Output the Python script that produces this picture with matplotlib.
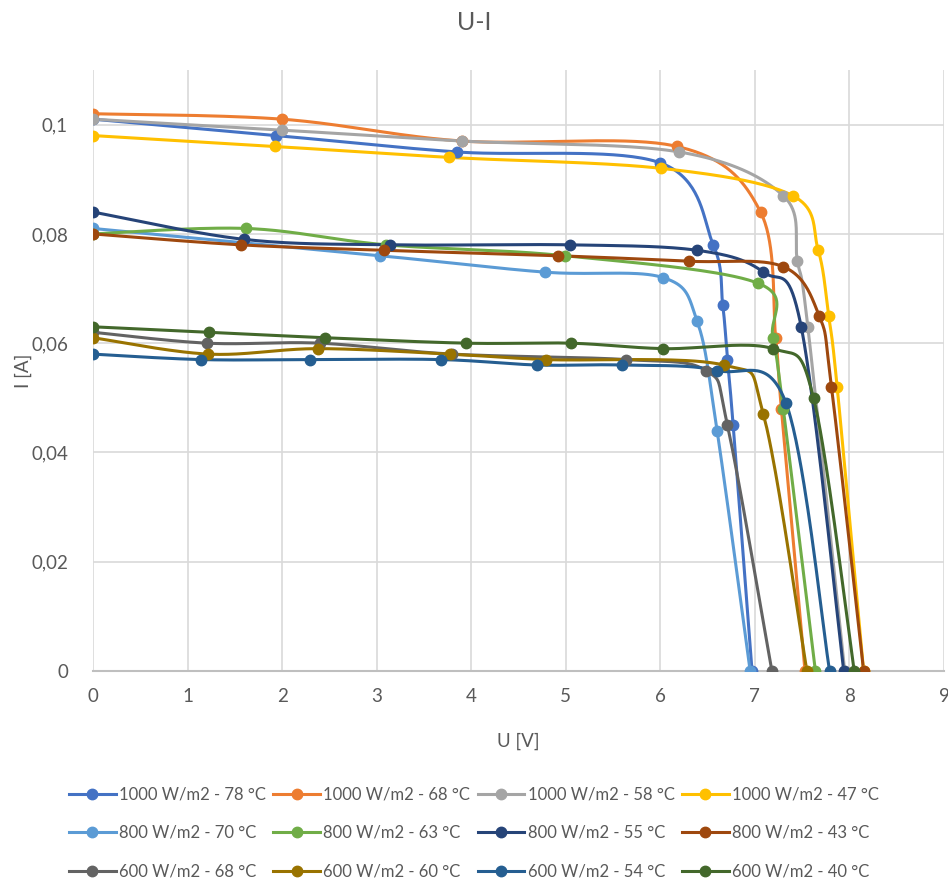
import numpy as np
import matplotlib
matplotlib.use("Agg")
import matplotlib.pyplot as plt
from matplotlib.lines import Line2D

plt.rcParams['font.family'] = ['Lato', 'DejaVu Sans']

labels = ["1000 W/m2 - 78 °C", "1000 W/m2 - 68 °C", "1000 W/m2 - 58 °C", "1000 W/m2 - 47 °C",
          "800 W/m2 - 70 °C", "800 W/m2 - 63 °C", "800 W/m2 - 55 °C", "800 W/m2 - 43 °C",
          "600 W/m2 - 68 °C", "600 W/m2 - 60 °C", "600 W/m2 - 54 °C", "600 W/m2 - 40 °C"]
colors = ["#4472C4", "#ED7D31", "#A5A5A5", "#FFC000",
          "#5B9BD5", "#70AD47", "#264478", "#9E480E",
          "#636363", "#997300", "#255E91", "#43682B"]

u_1000_78 = [0, 1.94, 3.85, 6.0, 6.56, 6.66, 6.71, 6.77, 6.97]
i_1000_78 = [0.101, 0.098, 0.095, 0.093, 0.078, 0.067, 0.057, 0.045, 0.0]
u_1000_68 = [0, 2.0, 3.9, 6.18, 7.06, 7.22, 7.28, 7.53]
i_1000_68 = [0.102, 0.101, 0.097, 0.096, 0.084, 0.061, 0.048, 0.0]
u_1000_58 = [0, 2.0, 3.9, 6.2, 7.3, 7.45, 7.56, 7.95]
i_1000_58 = [0.101, 0.099, 0.097, 0.095, 0.087, 0.075, 0.063, 0.0]
u_1000_47 = [0, 1.93, 3.77, 6.01, 7.4, 7.67, 7.78, 7.87, 8.15]
i_1000_47 = [0.098, 0.096, 0.094, 0.092, 0.087, 0.077, 0.065, 0.052, 0.0]
u_800_70 = [0, 3.04, 4.78, 6.03, 6.39, 6.6, 6.95]
i_800_70 = [0.081, 0.076, 0.073, 0.072, 0.064, 0.044, 0.0]
u_800_63 = [0, 1.62, 3.1, 4.99, 7.03, 7.19, 7.3, 7.64]
i_800_63 = [0.080, 0.081, 0.078, 0.076, 0.071, 0.061, 0.048, 0.0]
u_800_55 = [0, 1.6, 3.14, 5.04, 6.39, 7.09, 7.49, 7.94]
i_800_55 = [0.084, 0.079, 0.078, 0.078, 0.077, 0.073, 0.063, 0.0]
u_800_43 = [0, 1.56, 3.08, 4.92, 6.3, 7.3, 7.68, 7.81, 8.15]
i_800_43 = [0.080, 0.078, 0.077, 0.076, 0.075, 0.074, 0.065, 0.052, 0.0]
u_600_68 = [0, 1.21, 2.4, 3.8, 5.64, 6.48, 6.71, 7.18]
i_600_68 = [0.062, 0.060, 0.060, 0.058, 0.057, 0.055, 0.045, 0.0]
u_600_60 = [0, 1.22, 2.38, 3.78, 4.79, 6.67, 7.09, 7.55]
i_600_60 = [0.061, 0.058, 0.059, 0.058, 0.057, 0.056, 0.047, 0.0]
u_600_54 = [0, 1.14, 2.3, 3.68, 4.7, 5.59, 6.6, 7.33, 7.79]
i_600_54 = [0.058, 0.057, 0.057, 0.057, 0.056, 0.056, 0.055, 0.049, 0.0]
u_600_40 = [0, 1.23, 2.45, 3.95, 5.05, 6.03, 7.19, 7.62, 8.05]
i_600_40 = [0.063, 0.062, 0.061, 0.060, 0.060, 0.059, 0.059, 0.050, 0.0]

series_u = [u_1000_78, u_1000_68, u_1000_58, u_1000_47, u_800_70, u_800_63, u_800_55, u_800_43,
            u_600_68, u_600_60, u_600_54, u_600_40]
series_i = [i_1000_78, i_1000_68, i_1000_58, i_1000_47, i_800_70, i_800_63, i_800_55, i_800_43,
            i_600_68, i_600_60, i_600_54, i_600_40]

x_ticks = list(range(0, 10))
y_ticks = [0, 0.02, 0.04, 0.06, 0.08, 0.1]
y_tick_labels = ["0", "0,02", "0,04", "0,06", "0,08", "0,1"]


def smooth(x, y, n=40):
    pts = np.column_stack([x, y]).astype(float)
    ext = np.vstack([pts[0], pts, pts[-1]])
    t = np.linspace(0, 1, n)[:, None]
    out = []
    for k in range(len(pts) - 1):
        p0, p1, p2, p3 = ext[k], ext[k + 1], ext[k + 2], ext[k + 3]
        c1 = p1 + (p2 - p0) / 6.0
        c2 = p2 - (p3 - p1) / 6.0
        seg = ((1 - t) ** 3) * p1 + 3 * ((1 - t) ** 2) * t * c1 + 3 * (1 - t) * t ** 2 * c2 + t ** 3 * p2
        out.append(seg if k == 0 else seg[1:])
    s = np.vstack(out)
    return s[:, 0], s[:, 1]


fig = plt.figure(figsize=(9.48, 8.81), dpi=100)
ax = fig.add_axes([93 / 948, 1 - 671 / 881, (944 - 93) / 948, (671 - 70) / 881])

handles = []
for u, i, c, lab in zip(series_u, series_i, colors, labels):
    sx, sy = smooth(u, i)
    ax.plot(sx, sy, color=c, lw=2.2, solid_capstyle='round', zorder=3)
    ax.plot(u, i, 'o', color=c, ms=7.5, zorder=4)
    handles.append(Line2D([], [], color=c, lw=2.2, marker='o', ms=7.5))

ax.set_xlim(0, 9)
ax.set_ylim(0, 0.11)
ax.set_xticks(x_ticks)
ax.set_yticks(y_ticks)
ax.set_yticklabels(y_tick_labels)
ax.grid(True, color="#D9D9D9", lw=1.2, zorder=0)
ax.set_axisbelow(True)
for s in ['top', 'right', 'left']:
    ax.spines[s].set_visible(False)
ax.spines['bottom'].set_color("#BFBFBF")
ax.spines['bottom'].set_linewidth(1.5)
ax.tick_params(axis='both', length=0, labelsize=13.5, labelcolor="#595959")
ax.tick_params(axis='y', pad=18)
ax.tick_params(axis='x', pad=12)
ax.set_xlabel("U [V]", fontsize=13.5, color="#595959")
ax.set_ylabel("I [A]", fontsize=13.5, color="#595959")
ax.xaxis.set_label_coords(0.5, (671 - 733) / 601)
ax.yaxis.set_label_coords((32 - 93) / 851, 0.5)
fig.text(0.5, 1 - 22 / 881, "U-I", ha='center', va='center', fontsize=18, color="#595959")

order = []
for col in range(4):
    for row in range(3):
        order.append(row * 4 + col)
leg = fig.legend([handles[k] for k in order], [labels[k] for k in order], ncol=4,
                 loc='center', bbox_to_anchor=(0.5, 1 - 833 / 881), frameon=False,
                 fontsize=12, handlelength=2.8, handletextpad=0.2, columnspacing=0.45,
                 labelspacing=1.35, labelcolor="#595959")

fig.savefig("out.png", dpi=100)
